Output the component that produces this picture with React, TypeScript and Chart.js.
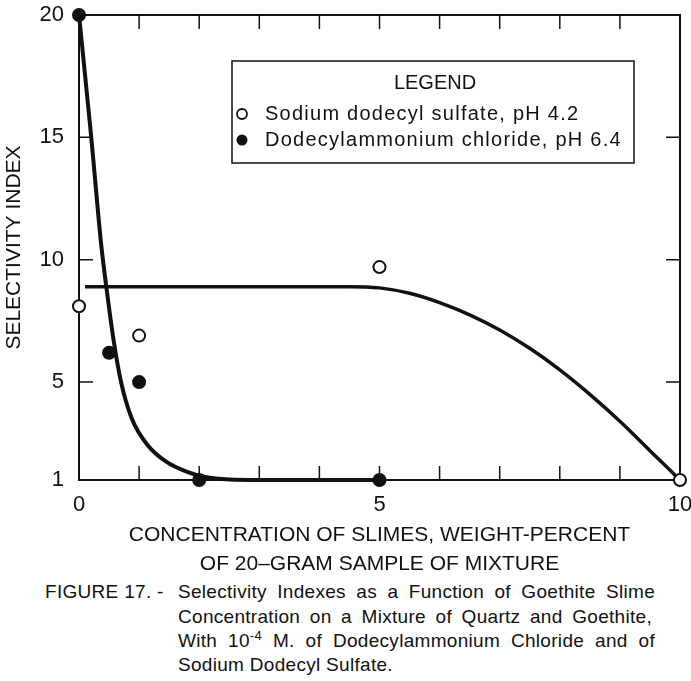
import React, { useEffect, useRef } from "react";
import { Chart, registerables } from "chart.js";

Chart.register(...registerables);

const FONT = "'Liberation Sans', Arial, sans-serif";
const INK = "#111";

// Axis ticks
const xTickLabels = [0, 5, 10];
const yTickValues = [1, 5, 10, 15, 20];
const xMinorTicks = [1, 2, 3, 4, 5, 6, 7, 8, 9];
const yMinorTicks = [5, 10, 15];

// Text
const yTitle = "SELECTIVITY INDEX";
const xTitle = ["CONCENTRATION OF SLIMES, WEIGHT-PERCENT", "OF 20\u2013GRAM SAMPLE OF MIXTURE"];
const legendTitle = "LEGEND";
const sdsLabel = "Sodium dodecyl sulfate, pH 4.2";
const dacLabel = "Dodecylammonium chloride, pH 6.4";

// Measured points: Sodium dodecyl sulfate (open circles)
const sdsX = [0, 1, 5, 10];
const sdsY = [8.1, 6.9, 9.7, 1];
// Measured points: Dodecylammonium chloride (filled circles)
const dacX = [0, 0.5, 1, 2, 5];
const dacY = [20, 6.2, 5.0, 1, 1];

// Drawn curves
const sdsCurveX = [0.1, 4.5, 5, 5.5, 6, 6.5, 7, 7.5, 8, 8.5, 9, 9.5, 10];
const sdsCurveY = [8.9, 8.9, 8.85, 8.63, 8.25, 7.75, 7.13, 6.38, 5.5, 4.5, 3.4, 2.2, 1];
const dacCurveX = [0, 0.2, 0.37, 0.47, 0.57, 0.7, 0.88, 1.15, 1.45, 1.8, 2.1, 2.5, 3, 5];
const dacCurveY = [20, 15.1, 10.6, 8.6, 6.8, 5.0, 3.5, 2.4, 1.75, 1.33, 1.12, 1.02, 1, 1];

const toPts = (xs: number[], ys: number[]) => xs.map((x, i) => ({ x, y: ys[i] }));

const framePlugin = {
  id: "frameAndLegend",
  beforeDatasetsDraw(chart: any) {
    const { ctx, chartArea, scales } = chart;
    const { left, right, top, bottom } = chartArea;
    const x = scales.x;
    const y = scales.y;
    ctx.save();
    ctx.strokeStyle = INK;
    ctx.lineWidth = 2;
    ctx.strokeRect(left, top, right - left, bottom - top);
    ctx.lineWidth = 1.5;
    ctx.beginPath();
    for (const v of xMinorTicks) {
      const px = x.getPixelForValue(v);
      ctx.moveTo(px, bottom);
      ctx.lineTo(px, bottom - 14);
      ctx.moveTo(px, top);
      ctx.lineTo(px, top + 14);
    }
    for (const v of yMinorTicks) {
      const py = y.getPixelForValue(v);
      ctx.moveTo(left, py);
      ctx.lineTo(left + 14, py);
      ctx.moveTo(right, py);
      ctx.lineTo(right - 14, py);
    }
    ctx.stroke();
    ctx.restore();
  },
  afterDatasetsDraw(chart: any) {
    const { ctx } = chart;
    const bx = 232, by = 61, bw = 402, bh = 102;
    ctx.save();
    ctx.fillStyle = "#fff";
    ctx.fillRect(bx, by, bw, bh);
    ctx.strokeStyle = INK;
    ctx.lineWidth = 1.5;
    ctx.strokeRect(bx, by, bw, bh);
    ctx.fillStyle = INK;
    ctx.font = `20px ${FONT}`;
    ctx.textBaseline = "middle";
    ctx.textAlign = "center";
    ctx.fillText(legendTitle, bx + 203, by + 22);
    ctx.textAlign = "left";
    (ctx as any).letterSpacing = "1.25px";
    ctx.fillText(sdsLabel, bx + 33, by + 53);
    ctx.fillText(dacLabel, bx + 33, by + 79);
    (ctx as any).letterSpacing = "0px";
    // markers
    ctx.lineWidth = 1.8;
    ctx.beginPath();
    ctx.arc(bx + 10, by + 53, 5, 0, Math.PI * 2);
    ctx.fillStyle = "#fff";
    ctx.fill();
    ctx.stroke();
    ctx.beginPath();
    ctx.arc(bx + 10, by + 79, 5.5, 0, Math.PI * 2);
    ctx.fillStyle = INK;
    ctx.fill();
    ctx.restore();
  },
};

function ChartView() {
  const ref = useRef<HTMLCanvasElement | null>(null);
  useEffect(() => {
    if (!ref.current) return;
    const chart = new Chart(ref.current, {
      type: "scatter",
      data: {
        datasets: [
          {
            label: sdsLabel,
            data: toPts(sdsX, sdsY),
            pointRadius: 6,
            pointBackgroundColor: "#fff",
            pointBorderColor: INK,
            pointBorderWidth: 2,
            showLine: false,
            clip: false,
            order: 0,
          } as any,
          {
            label: dacLabel,
            data: toPts(dacX, dacY),
            pointRadius: 7,
            pointBackgroundColor: INK,
            pointBorderColor: INK,
            pointBorderWidth: 0,
            showLine: false,
            clip: false,
            order: 0,
          } as any,
          {
            label: "sds curve",
            data: toPts(sdsCurveX, sdsCurveY),
            showLine: true,
            pointRadius: 0,
            borderColor: INK,
            borderWidth: 3.5,
            cubicInterpolationMode: "monotone",
            clip: false,
            order: 1,
          } as any,
          {
            label: "dac curve",
            data: toPts(dacCurveX, dacCurveY),
            showLine: true,
            pointRadius: 0,
            borderColor: INK,
            borderWidth: 4,
            cubicInterpolationMode: "monotone",
            clip: false,
            order: 1,
          } as any,
        ],
      },
      options: {
        responsive: false,
        animation: false,
        events: [],
        layout: { padding: { left: 0, right: 11, top: 15, bottom: 0 } },
        plugins: { legend: { display: false }, tooltip: { enabled: false } },
        scales: {
          x: {
            type: "linear",
            min: 0,
            max: 10,
            grid: { display: false, drawTicks: false },
            border: { display: false },
            afterBuildTicks: (s: any) => {
              s.ticks = xTickLabels.map((v) => ({ value: v }));
            },
            afterFit: (s: any) => {
              s.height = 100;
              s.paddingLeft = 0;
              s.paddingRight = 0;
            },
            ticks: {
              color: INK,
              padding: 12,
              maxRotation: 0,
              autoSkip: false,
              font: { family: FONT, size: 22 },
            },
            title: {
              display: true,
              text: xTitle,
              color: INK,
              font: { family: FONT, size: 21, lineHeight: 29 / 21 },
              padding: { top: 0, bottom: 1.5 },
            },
          },
          y: {
            type: "linear",
            min: 1,
            max: 20,
            grid: { display: false, drawTicks: false },
            border: { display: false },
            afterBuildTicks: (s: any) => {
              s.ticks = yTickValues.map((v) => ({ value: v }));
            },
            afterFit: (s: any) => {
              s.width = 79;
              s.paddingTop = 0;
              s.paddingBottom = 0;
            },
            ticks: {
              color: INK,
              padding: 15,
              autoSkip: false,
              font: { family: FONT, size: 22 },
            },
            title: {
              display: true,
              text: yTitle,
              color: INK,
              font: { family: FONT, size: 21 },
              padding: { top: 2, bottom: 0 },
            },
          },
        },
      },
      plugins: [framePlugin],
    } as any);
    return () => chart.destroy();
  }, []);
  return <canvas ref={ref} width={691} height={580} style={{ position: "absolute", left: 0, top: 0 }} />;
}

const captionStyle: React.CSSProperties = {
  position: "absolute",
  fontFamily: FONT,
  fontSize: 19,
  letterSpacing: "0.3px",
  lineHeight: "24px",
  color: INK,
  whiteSpace: "nowrap",
};
const justified: React.CSSProperties = { textAlign: "justify", textAlignLast: "justify" as any };

export default function App() {
  return (
    <div style={{ position: "fixed", left: 0, top: 0, width: 691, height: 681, background: "#fff", overflow: "hidden" }}>
      <ChartView />
      <div style={{ ...captionStyle, left: 45, top: 580 }}>FIGURE 17. -</div>
      <div style={{ ...captionStyle, ...justified, left: 178, top: 580, width: 477 }}>
        Selectivity Indexes as a Function of Goethite Slime
      </div>
      <div style={{ ...captionStyle, ...justified, left: 178, top: 605, width: 474 }}>
        Concentration on a Mixture of Quartz and Goethite,
      </div>
      <div style={{ ...captionStyle, ...justified, left: 178, top: 629, width: 477 }}>
        With 10<sup style={{ fontSize: 13, lineHeight: 0 }}>-4</sup> M. of Dodecylammonium Chloride and of
      </div>
      <div style={{ ...captionStyle, left: 178, top: 653 }}>Sodium Dodecyl Sulfate.</div>
    </div>
  );
}
